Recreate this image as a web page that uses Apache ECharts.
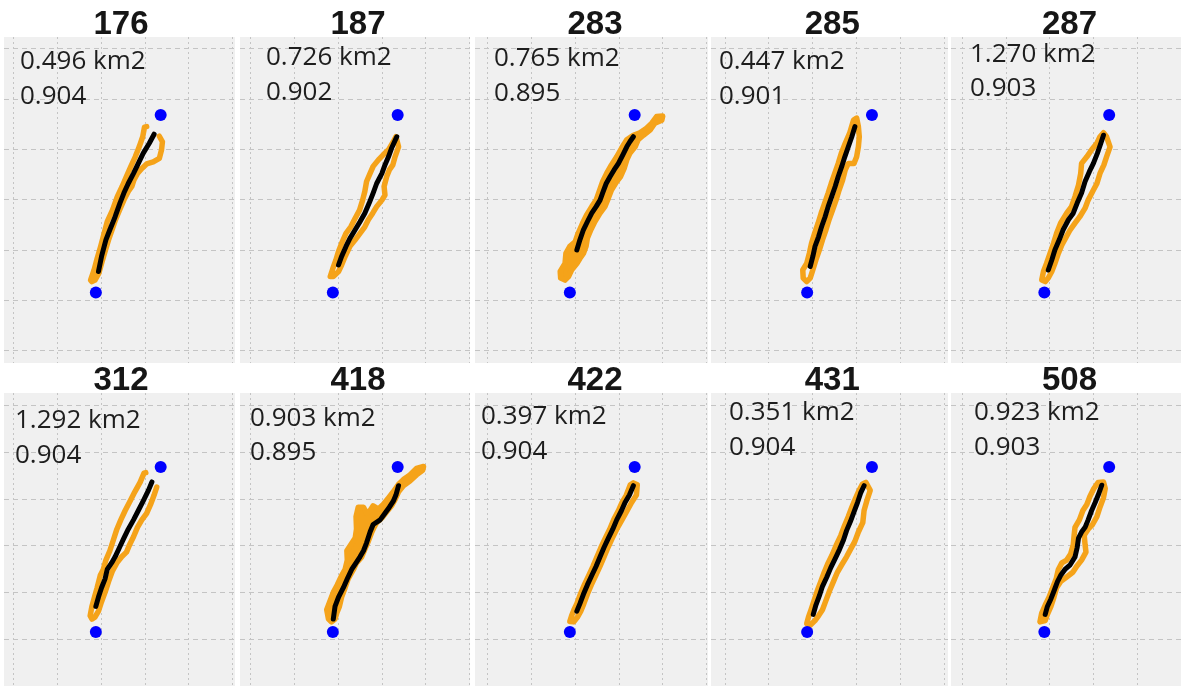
<!DOCTYPE html>
<html>
<head>
<meta charset="utf-8">
<script src="https://cdn.jsdelivr.net/npm/echarts@6/dist/echarts.min.js"></script>
<style>
html,body{margin:0;padding:0;background:#ffffff;}
#chart{width:1181px;height:686px;}
</style>
</head>
<body>
<div id="chart"></div>
<script>
// ---------------- DATA (grid-cell units) ----------------
const panelIds = ['176','187','283','285','287','312','418','422','431','508'];
const areaKm2  = [0.496, 0.726, 0.765, 0.447, 1.270, 1.292, 0.903, 0.397, 0.351, 0.923];
const scores   = [0.904, 0.902, 0.895, 0.901, 0.903, 0.904, 0.895, 0.904, 0.904, 0.903];

// start / end points (blue dots), same in every panel
const startPoint = [1.88, 1.155];
const endPoint   = [3.36, 4.68];

// axis ticks (grid lines, no labels)
const xTickRange = [0, 5];
const yTickRange = [0, 6];
const tickStep = 1;

// black tracks
const track176 = [[1.94,1.57],[2.01,1.87],[2.11,2.20],[2.20,2.40],[2.32,2.66],[2.43,2.93],[2.52,3.13],[2.62,3.32],[2.74,3.52],[2.85,3.72],[2.96,3.92],[3.10,4.12],[3.21,4.30]];
const track187 = [[2.01,1.70],[2.08,1.87],[2.18,2.07],[2.27,2.23],[2.39,2.40],[2.50,2.56],[2.61,2.73],[2.71,2.93],[2.80,3.13],[2.88,3.32],[3.00,3.52],[3.07,3.69],[3.15,3.85],[3.22,4.02],[3.34,4.25]];
const track283 = [[2.04,2.00],[2.11,2.20],[2.19,2.40],[2.28,2.56],[2.38,2.73],[2.48,2.86],[2.57,2.99],[2.64,3.16],[2.71,3.32],[2.80,3.46],[2.89,3.59],[2.99,3.72],[3.09,3.89],[3.18,4.05],[3.25,4.15],[3.33,4.25]];
const track285 = [[1.95,1.67],[2.01,1.87],[2.06,2.07],[2.14,2.26],[2.21,2.46],[2.29,2.66],[2.36,2.86],[2.44,3.06],[2.52,3.26],[2.59,3.46],[2.67,3.66],[2.74,3.85],[2.82,4.05],[2.90,4.25],[2.97,4.45]];
const track287 = [[1.97,1.60],[2.05,1.80],[2.12,2.00],[2.22,2.20],[2.31,2.40],[2.43,2.60],[2.54,2.73],[2.63,2.93],[2.73,3.13],[2.81,3.36],[2.91,3.56],[3.00,3.72],[3.09,3.92],[3.17,4.12],[3.23,4.28]];
const track312 = [[1.88,1.70],[1.94,1.90],[2.01,2.10],[2.09,2.29],[2.14,2.49],[2.24,2.63],[2.32,2.76],[2.42,2.96],[2.52,3.16],[2.62,3.35],[2.74,3.55],[2.85,3.75],[2.96,3.95],[3.08,4.18],[3.16,4.36]];
const track418 = [[1.89,1.43],[1.93,1.70],[2.01,1.90],[2.12,2.10],[2.21,2.29],[2.31,2.49],[2.41,2.63],[2.50,2.76],[2.58,2.89],[2.65,3.06],[2.73,3.29],[2.80,3.45],[2.96,3.55],[3.07,3.69],[3.17,3.82],[3.26,3.95],[3.32,4.08],[3.38,4.28]];
const track422 = [[2.04,1.60],[2.11,1.76],[2.19,1.96],[2.28,2.16],[2.38,2.36],[2.48,2.56],[2.57,2.76],[2.66,2.96],[2.76,3.16],[2.86,3.35],[2.95,3.55],[3.06,3.75],[3.14,3.92],[3.24,4.08],[3.33,4.28]];
const track431 = [[2.02,1.53],[2.08,1.73],[2.16,1.93],[2.23,2.13],[2.33,2.33],[2.42,2.53],[2.52,2.72],[2.62,2.92],[2.71,3.12],[2.78,3.32],[2.87,3.52],[2.95,3.72],[3.03,3.92],[3.10,4.12],[3.18,4.28]];
const track508 = [[1.90,1.53],[1.95,1.70],[2.03,1.86],[2.10,2.03],[2.18,2.23],[2.25,2.36],[2.35,2.49],[2.47,2.59],[2.58,2.76],[2.63,2.96],[2.66,3.16],[2.73,3.29],[2.81,3.39],[2.88,3.55],[2.96,3.75],[3.04,3.92],[3.11,4.08],[3.19,4.29]];

// orange corridor outlines
const zone176 = [[3.04,4.45],[2.99,4.44],[2.95,4.25],[2.87,4.05],[2.78,3.85],[2.68,3.66],[2.58,3.46],[2.48,3.26],[2.37,3.06],[2.26,2.79],[2.14,2.56],[2.07,2.33],[1.99,2.07],[1.91,1.83],[1.84,1.60],[1.76,1.40],[1.79,1.37],[1.86,1.40],[1.95,1.54],[2.01,1.73],[2.09,1.97],[2.17,2.20],[2.25,2.40],[2.33,2.60],[2.42,2.79],[2.52,2.99],[2.62,3.16],[2.70,3.26],[2.75,3.39],[2.83,3.52],[2.93,3.62],[3.04,3.71],[3.19,3.75],[3.33,3.82],[3.38,3.99],[3.40,4.15],[3.33,4.26]];
const zone187 = [[1.82,1.47],[1.88,1.63],[1.95,1.80],[2.01,1.97],[2.08,2.13],[2.18,2.33],[2.29,2.46],[2.39,2.63],[2.49,2.79],[2.56,2.99],[2.61,3.16],[2.65,3.36],[2.73,3.52],[2.80,3.66],[2.92,3.79],[3.03,3.89],[3.15,3.99],[3.26,4.15],[3.32,4.25],[3.38,4.05],[3.30,3.85],[3.25,3.69],[3.17,3.59],[3.11,3.46],[3.05,3.26],[3.07,3.09],[3.00,2.99],[2.88,2.86],[2.79,2.73],[2.69,2.60],[2.61,2.46],[2.50,2.33],[2.39,2.20],[2.27,2.07],[2.16,1.87],[2.08,1.70],[2.01,1.57],[1.89,1.47]];
const zone283 = [[1.67,1.44],[1.66,1.57],[1.77,1.73],[1.79,1.93],[1.88,2.07],[2.00,2.16],[2.07,2.33],[2.17,2.53],[2.26,2.69],[2.38,2.86],[2.48,2.99],[2.55,3.16],[2.63,3.36],[2.72,3.52],[2.83,3.69],[2.95,3.85],[3.06,4.02],[3.18,4.19],[3.33,4.28],[3.48,4.33],[3.63,4.42],[3.75,4.52],[3.86,4.65],[4.00,4.66],[3.98,4.58],[3.82,4.52],[3.71,4.38],[3.56,4.28],[3.44,4.19],[3.37,4.05],[3.25,3.92],[3.18,3.79],[3.12,3.62],[3.04,3.46],[2.95,3.36],[2.83,3.19],[2.76,3.03],[2.68,2.86],[2.57,2.73],[2.45,2.56],[2.36,2.40],[2.28,2.23],[2.25,2.07],[2.19,1.93],[2.11,1.83],[2.04,1.73],[1.92,1.60],[1.85,1.47],[1.77,1.40]];
const zone285 = [[1.79,1.44],[1.78,1.60],[1.87,1.73],[1.93,1.93],[1.98,2.13],[2.05,2.33],[2.13,2.53],[2.20,2.73],[2.28,2.93],[2.36,3.13],[2.43,3.32],[2.51,3.52],[2.59,3.72],[2.66,3.92],[2.75,4.12],[2.85,4.32],[2.94,4.58],[3.01,4.62],[3.05,4.45],[3.07,4.25],[3.05,4.05],[3.01,3.85],[2.95,3.72],[2.82,3.72],[2.75,3.59],[2.69,3.39],[2.61,3.19],[2.54,2.99],[2.46,2.79],[2.38,2.60],[2.31,2.40],[2.23,2.20],[2.16,2.00],[2.08,1.80],[2.02,1.63],[1.95,1.44],[1.87,1.37]];
const zone287 = [[1.82,1.40],[1.86,1.57],[1.93,1.73],[2.01,1.93],[2.09,2.13],[2.16,2.33],[2.25,2.53],[2.39,2.73],[2.50,2.86],[2.58,3.06],[2.66,3.29],[2.71,3.52],[2.73,3.72],[2.85,3.85],[2.96,3.99],[3.08,4.12],[3.15,4.25],[3.23,4.33],[3.30,4.25],[3.38,4.05],[3.30,3.85],[3.24,3.69],[3.15,3.52],[3.08,3.32],[3.00,3.19],[2.88,2.99],[2.81,2.83],[2.69,2.66],[2.58,2.53],[2.47,2.40],[2.38,2.26],[2.28,2.10],[2.20,1.93],[2.12,1.73],[2.05,1.57],[1.97,1.44],[1.90,1.37]];
const zone312 = [[3.02,4.56],[2.98,4.55],[2.89,4.35],[2.77,4.15],[2.66,3.95],[2.55,3.75],[2.45,3.55],[2.36,3.35],[2.28,3.12],[2.20,2.89],[2.11,2.69],[2.05,2.49],[1.98,2.36],[1.91,2.10],[1.85,1.90],[1.79,1.70],[1.75,1.50],[1.79,1.43],[1.86,1.47],[1.94,1.60],[2.01,1.80],[2.09,2.00],[2.17,2.23],[2.26,2.46],[2.36,2.63],[2.47,2.76],[2.58,2.86],[2.65,3.02],[2.74,3.19],[2.83,3.39],[2.93,3.55],[3.04,3.69],[3.13,3.88],[3.21,4.08],[3.27,4.25]];
const zone418 = [[1.78,1.43],[1.74,1.63],[1.82,1.83],[1.89,2.00],[1.98,2.16],[2.08,2.36],[2.16,2.49],[2.21,2.69],[2.20,2.89],[2.29,3.02],[2.39,3.16],[2.42,3.35],[2.41,3.62],[2.46,3.82],[2.58,3.82],[2.65,3.69],[2.73,3.75],[2.80,3.85],[2.92,3.78],[3.03,3.88],[3.15,4.02],[3.26,4.15],[3.38,4.31],[3.49,4.41],[3.64,4.51],[3.79,4.65],[3.95,4.69],[3.93,4.61],[3.79,4.51],[3.64,4.38],[3.49,4.28],[3.38,4.15],[3.30,3.98],[3.22,3.85],[3.11,3.72],[3.00,3.59],[2.88,3.49],[2.82,3.39],[2.77,3.29],[2.69,3.09],[2.61,2.92],[2.54,2.76],[2.42,2.63],[2.35,2.49],[2.23,2.29],[2.16,2.10],[2.08,1.90],[2.03,1.70],[1.97,1.56],[1.93,1.43],[1.85,1.37]];
const zone422 = [[1.88,1.38],[1.92,1.50],[1.97,1.62],[2.04,1.76],[2.12,1.96],[2.21,2.16],[2.31,2.36],[2.41,2.56],[2.50,2.76],[2.59,2.96],[2.69,3.16],[2.79,3.35],[2.88,3.55],[2.99,3.75],[3.07,3.92],[3.17,4.08],[3.26,4.30],[3.33,4.34],[3.42,4.30],[3.40,4.08],[3.29,3.92],[3.19,3.75],[3.07,3.55],[2.95,3.35],[2.85,3.16],[2.75,2.96],[2.66,2.76],[2.57,2.56],[2.47,2.36],[2.37,2.16],[2.28,1.96],[2.20,1.76],[2.13,1.60],[2.06,1.48],[1.97,1.37]];
const zone431 = [[1.87,1.33],[1.91,1.47],[1.97,1.63],[2.04,1.83],[2.11,2.03],[2.19,2.23],[2.27,2.43],[2.36,2.63],[2.46,2.82],[2.55,3.02],[2.65,3.22],[2.73,3.42],[2.82,3.62],[2.90,3.82],[2.97,3.98],[3.05,4.15],[3.14,4.31],[3.22,4.35],[3.32,4.18],[3.24,3.95],[3.18,3.75],[3.15,3.49],[3.05,3.29],[2.97,3.09],[2.87,2.92],[2.78,2.76],[2.67,2.59],[2.57,2.43],[2.48,2.23],[2.39,2.03],[2.31,1.83],[2.23,1.63],[2.14,1.50],[2.06,1.40],[1.95,1.30]];
const zone508 = [[1.78,1.37],[1.82,1.56],[1.90,1.73],[1.99,1.90],[2.07,2.10],[2.15,2.29],[2.20,2.49],[2.28,2.63],[2.39,2.69],[2.48,2.82],[2.54,3.02],[2.56,3.22],[2.58,3.39],[2.68,3.55],[2.76,3.75],[2.85,3.88],[2.92,4.05],[3.01,4.22],[3.11,4.35],[3.23,4.36],[3.27,4.22],[3.23,4.02],[3.15,3.82],[3.08,3.62],[2.98,3.45],[2.88,3.35],[2.79,3.22],[2.81,3.02],[2.83,2.86],[2.73,2.69],[2.62,2.56],[2.53,2.43],[2.39,2.33],[2.25,2.23],[2.16,2.10],[2.10,1.90],[2.03,1.70],[1.95,1.53],[1.90,1.40]];

const tracks = [track176, track187, track283, track285, track287, track312, track418, track422, track431, track508];
const zones  = [zone176, zone187, zone283, zone285, zone287, zone312, zone418, zone422, zone431, zone508];

// ---------------- LAYOUT / STYLE ----------------
const zoneClosed = [false, true, true, true, true, false, true, true, true, true];
const zoneFilled = [false, false, true, false, false, false, true, false, false, false];
const colPanel = [[4,235],[240,470],[475,708],[711,948],[951,1181]];
const rowPanel = [[37,363],[393,686]];
const colGridLeft = [13.5, 250.5, 487.5, 724.8, 962];
const rowZeroY = [350.5, 707];
const CELL_W = 43.8, CELL_H = 50.3;
const titleY = [24.5, 381];
const textLeft = [20, 266, 494, 719, 970, 15, 250, 481, 729, 974];
const line1Y = [61.5, 58, 59, 62, 55, 421, 419, 417, 413, 413];
const line2Y = [97, 93, 94, 97, 89, 456, 453, 452, 448, 448];

const PANEL_BG = '#f0f0f0';
const GRID_C = '#c4c4c4';
const ORANGE = '#f5a31a';
const BLUE = '#0000ff';

const grids = [], xAxes = [], yAxes = [], series = [], titles = [], graphics = [];
const hiddenAxisParts = {axisLine:{show:false}, axisTick:{show:false}, axisLabel:{show:false}};

function zoneRenderer(points, closed, filled) {
  return function (params, api) {
    if (params.dataIndex !== 0) return null;
    const pts = points.map(function (p) { return api.coord(p); });
    return {
      type: closed ? 'polygon' : 'polyline',
      shape: {points: pts},
      style: {fill: filled ? ORANGE : 'none', stroke: ORANGE, lineWidth: 5.5, lineJoin: 'round', lineCap: 'round'}
    };
  };
}

for (let i = 0; i < panelIds.length; i++) {
  const col = i % 5, row = Math.floor(i / 5);
  const pL = colPanel[col][0], pR = colPanel[col][1];
  const pT = rowPanel[row][0], pB = rowPanel[row][1];
  const gx = colGridLeft[col];
  const gW = (xTickRange[1] - xTickRange[0]) * CELL_W;
  const gH = (yTickRange[1] - yTickRange[0]) * CELL_H;
  const gTop = rowZeroY[row] - gH;

  graphics.push({type:'rect', z:-100, silent:true, shape:{x:pL, y:pT, width:pR-pL, height:pB-pT}, style:{fill:PANEL_BG}});

  // horizontal grid lines across full panel width
  let gi = grids.length;
  grids.push({left:pL, top:gTop, width:pR-pL, height:gH});
  xAxes.push({gridIndex:gi, type:'value', min:0, max:1, show:false});
  yAxes.push(Object.assign({gridIndex:gi, type:'value', min:yTickRange[0], max:yTickRange[1], interval:tickStep,
    splitLine:{show:true, lineStyle:{color:GRID_C, width:1, type:[5,4]}}}, hiddenAxisParts));

  // vertical grid lines across full panel height
  gi = grids.length;
  grids.push({left:gx, top:pT, width:gW, height:pB-pT});
  xAxes.push(Object.assign({gridIndex:gi, type:'value', min:xTickRange[0], max:xTickRange[1], interval:tickStep,
    splitLine:{show:true, lineStyle:{color:GRID_C, width:1, type:[2,3]}}}, hiddenAxisParts));
  yAxes.push({gridIndex:gi, type:'value', min:0, max:1, show:false});

  // data grid
  gi = grids.length;
  grids.push({left:gx, top:gTop, width:gW, height:gH});
  xAxes.push({gridIndex:gi, type:'value', min:xTickRange[0], max:xTickRange[1], show:false});
  yAxes.push({gridIndex:gi, type:'value', min:yTickRange[0], max:yTickRange[1], show:false});

  series.push({type:'custom', xAxisIndex:gi, yAxisIndex:gi, data:zones[i], silent:true, z:2,
    renderItem: zoneRenderer(zones[i], zoneClosed[i], zoneFilled[i])});
  series.push({type:'line', xAxisIndex:gi, yAxisIndex:gi, data:tracks[i], showSymbol:false, silent:true, z:3,
    lineStyle:{color:'#000000', width:5, join:'round', cap:'round'}});
  series.push({type:'scatter', xAxisIndex:gi, yAxisIndex:gi, data:[startPoint, endPoint], symbolSize:12, silent:true, z:4,
    itemStyle:{color:BLUE, opacity:1}});

  titles.push({text:panelIds[i], left:gx + 107.5, top:titleY[row], textAlign:'center', textVerticalAlign:'middle', padding:0,
    textStyle:{fontFamily:'"Liberation Sans Narrow", "Liberation Sans", sans-serif', fontWeight:'bold', fontSize:33, color:'#161616'}});
  titles.push({text:areaKm2[i].toFixed(3) + ' km2', left:textLeft[i], top:line1Y[i], textAlign:'left', textVerticalAlign:'middle', padding:0,
    textStyle:{fontFamily:'Open Sans', fontWeight:'normal', fontSize:26, color:'#1e1e1e'}});
  titles.push({text:scores[i].toFixed(3), left:textLeft[i], top:line2Y[i], textAlign:'left', textVerticalAlign:'middle', padding:0,
    textStyle:{fontFamily:'Open Sans', fontWeight:'normal', fontSize:26, color:'#1e1e1e'}});
}

const chart = echarts.init(document.getElementById('chart'));
chart.setOption({
  animation: false,
  backgroundColor: '#ffffff',
  title: titles,
  graphic: {elements: graphics},
  grid: grids,
  xAxis: xAxes,
  yAxis: yAxes,
  series: series
});
</script>
</body>
</html>
